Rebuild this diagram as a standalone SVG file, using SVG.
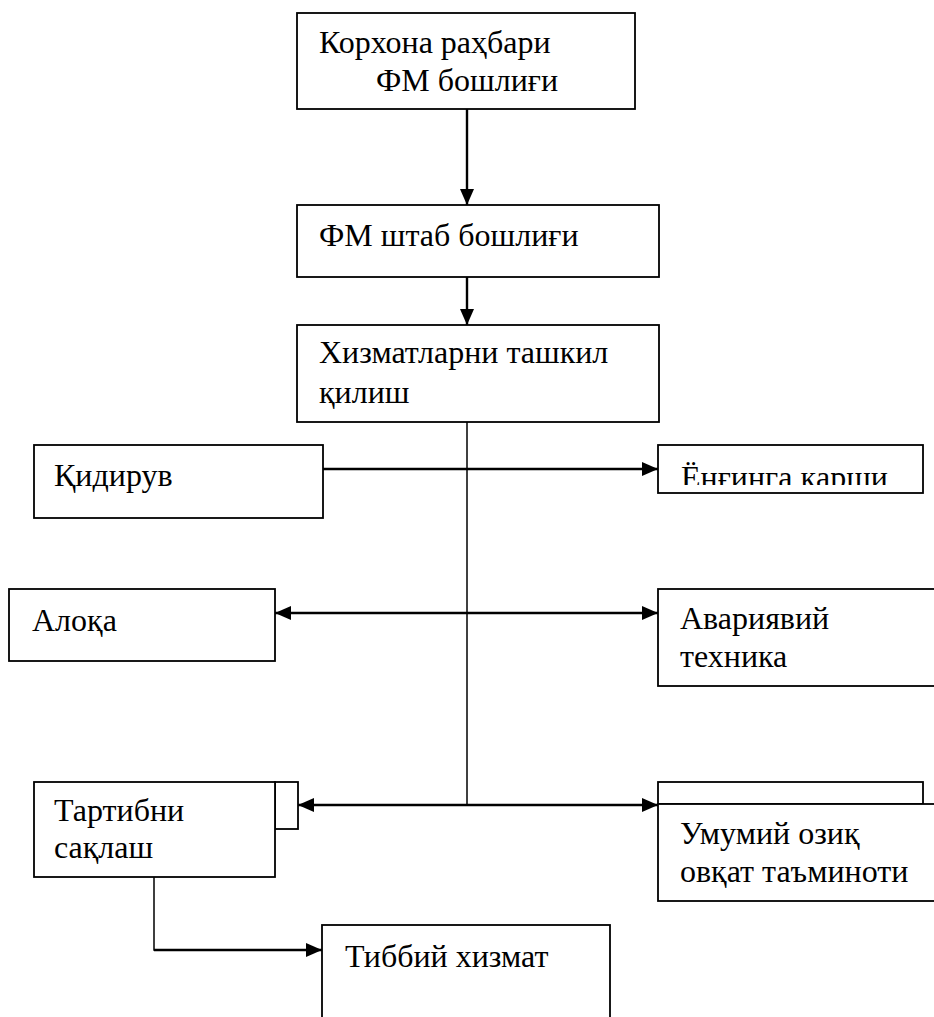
<svg xmlns="http://www.w3.org/2000/svg" width="934" height="1017" viewBox="0 0 934 1017">
<style>
.box{fill:#fff;stroke:#000;stroke-width:1.8}
.t{font-family:"Liberation Serif","Times New Roman",serif;font-size:32px;fill:#000}
.arr{fill:none;stroke:#000;stroke-width:2.4}
.ln{fill:none;stroke:#000;stroke-width:1.5}
</style>
<defs>
<marker id="ah" markerUnits="userSpaceOnUse" markerWidth="16" markerHeight="14" viewBox="0 0 16 14" refX="16" refY="7" orient="auto-start-reverse">
<path d="M0,0 L16,7 L0,14 z" fill="#000"/>
</marker>
<clipPath id="clipE"><rect x="658" y="445" width="266" height="40"/></clipPath>
</defs>
<rect width="934" height="1017" fill="#fff"/>
<g id="connectors">
<line class="arr" x1="467" y1="109" x2="467" y2="205" marker-end="url(#ah)"/>
<line class="arr" x1="467" y1="277" x2="467" y2="325" marker-end="url(#ah)"/>
<line class="ln" x1="467" y1="422" x2="467" y2="805"/>
<line class="arr" x1="323" y1="469" x2="658" y2="469" marker-end="url(#ah)"/>
<line class="arr" x1="275" y1="613" x2="658" y2="613" marker-start="url(#ah)" marker-end="url(#ah)"/>
<line class="arr" x1="298" y1="805" x2="658" y2="805" marker-start="url(#ah)" marker-end="url(#ah)"/>
<polyline class="ln" points="154,877 154,950 200,950"/>
<line class="arr" x1="154" y1="950" x2="322" y2="950" marker-end="url(#ah)"/>
</g>
<g id="n1">
<rect class="box" x="297" y="13" width="338" height="96"/>
<text class="t" x="319" y="53">Корхона раҳбари</text>
<text class="t" x="376" y="91">ФМ бошлиғи</text>
</g>
<g id="n2">
<rect class="box" x="297" y="205" width="362" height="72"/>
<text class="t" x="319" y="246">ФМ штаб бошлиғи</text>
</g>
<g id="n3">
<rect class="box" x="297" y="325" width="362" height="97"/>
<text class="t" x="319" y="363">Хизматларни ташкил</text>
<text class="t" x="319" y="403">қилиш</text>
</g>
<g id="n4">
<rect class="box" x="34" y="445" width="289" height="73"/>
<text class="t" x="54" y="486">Қидирув</text>
</g>
<g id="n5">
<rect class="box" x="658" y="445" width="265" height="48"/>
<text class="t" x="681" y="488" clip-path="url(#clipE)">Ёнғинга қарши</text>
</g>
<g id="n6">
<rect class="box" x="9" y="589" width="266" height="72"/>
<text class="t" x="32" y="631">Алоқа</text>
</g>
<g id="n7">
<rect class="box" x="658" y="589" width="290" height="97"/>
<text class="t" x="680" y="629">Авариявий</text>
<text class="t" x="680" y="667">техника</text>
</g>
<g id="n8">
<rect class="box" x="275" y="782" width="23" height="47"/>
<rect class="box" x="34" y="782" width="241" height="95"/>
<text class="t" x="54" y="821">Тартибни</text>
<text class="t" x="54" y="858">сақлаш</text>
</g>
<g id="n9">
<rect class="box" x="658" y="782" width="265" height="22"/>
<rect class="box" x="658" y="804" width="290" height="97"/>
<text class="t" x="680" y="844">Умумий озиқ</text>
<text class="t" x="680" y="882">овқат таъминоти</text>
</g>
<g id="n10">
<rect class="box" x="322" y="925" width="288" height="110"/>
<text class="t" x="345" y="967">Тиббий хизмат</text>
</g>
</svg>
